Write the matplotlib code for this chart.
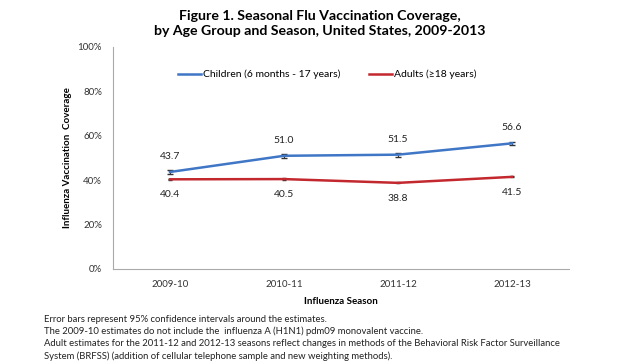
import matplotlib.pyplot as plt
from matplotlib.lines import Line2D
import numpy as np

plt.rcParams['font.family'] = ['Lato', 'DejaVu Sans']

# %% --- DATOS ---
seasons = ['2009-10', '2010-11', '2011-12', '2012-13']
children = [43.7, 51.0, 51.5, 56.6]
children_err = [1.0, 0.9, 0.9, 0.7]
adults = [40.4, 40.5, 38.8, 41.5]
adults_err = [0.3, 0.3, 0.2, 0.2]

notes = [
    'Error bars represent 95% confidence intervals around the estimates.',
    'The 2009-10 estimates do not include the  influenza A (H1N1) pdm09 monovalent vaccine.',
    'Adult estimates for the 2011-12 and 2012-13 seasons reflect changes in methods of the Behavioral Risk Factor Surveillance',
    'System (BRFSS) (addition of cellular telephone sample and new weighting methods).',
]

# %% --- GRAFICO ---
fig = plt.figure(figsize=(6.4, 3.64), dpi=100)
ax = fig.add_axes([113/640, 1 - 269/364, 456/640, 222/364])

xx = np.arange(len(seasons))
blue = '#3F76C6'
red = '#C3282E'

ax.errorbar(xx, children, yerr=children_err, color=blue, lw=1.8, capsize=2,
            ecolor='#333333', elinewidth=0.8)
ax.errorbar(xx, adults, yerr=adults_err, color=red, lw=1.8, capsize=1.5,
            ecolor='#333333', elinewidth=0.6)

for x, v in zip(xx, children):
    ax.annotate(f'{v:.1f}', (x, v), xytext=(0, 8), textcoords='offset points',
                ha='center', va='bottom', fontsize=7.5, color='#222222')
for x, v in zip(xx, adults):
    ax.annotate(f'{v:.1f}', (x, v), xytext=(0, -8), textcoords='offset points',
                ha='center', va='top', fontsize=7.5, color='#222222')

ax.set_xlim(-0.5, 3.5)
ax.set_ylim(0, 100)
ax.set_yticks(np.arange(0, 101, 20))
ax.set_yticklabels([f'{t}%' for t in range(0, 101, 20)], fontsize=7, color='#333333')
ax.set_xticks(xx)
ax.set_xticklabels(seasons, fontsize=7, color='#333333')
ax.tick_params(length=0, pad=8)
for s in ['top', 'right']:
    ax.spines[s].set_visible(False)
ax.spines['left'].set_color('#AAAAAA')
ax.spines['bottom'].set_color('#AAAAAA')

ax.set_xlabel('Influenza Season', fontsize=7, fontweight='bold', labelpad=6)
ax.set_ylabel('Influenza Vaccination  Coverage', fontsize=7, fontweight='bold', labelpad=4)

# leyenda solo con lineas (sin barras de error)
handles = [Line2D([], [], color=blue, lw=1.8), Line2D([], [], color=red, lw=1.8)]
labels = ['Children (6 months - 17 years)', 'Adults (\u226518 years)']
ax.legend(handles, labels, loc='upper center', bbox_to_anchor=(0.47, 0.94), ncol=2, frameon=False,
          fontsize=7.5, handlelength=2.2, columnspacing=2.8, handletextpad=0.2)

fig.text(0.5, 1 - 10/364, 'Figure 1. Seasonal Flu Vaccination Coverage,\nby Age Group and Season, United States, 2009-2013',
         ha='center', va='top', fontsize=10.2, fontweight='bold', linespacing=1.3)

for i, line in enumerate(notes):
    fig.text(44/640, 1 - (319 + i*12.5)/364, line, ha='left', va='center', fontsize=6.8, color='#222222')

fig.savefig('out.png', dpi=100)
